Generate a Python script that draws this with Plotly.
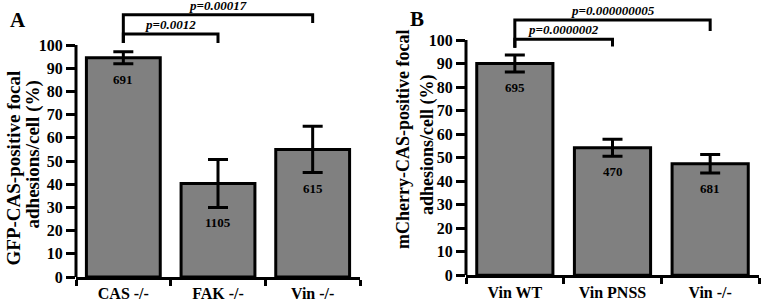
import plotly.graph_objects as go

# ---------------- data ----------------
cats_a = ["CAS -/-", "FAK -/-", "Vin -/-"]
mean_a = [94.5, 40.3, 55.0]
err_a = [2.6, 10.3, 10.0]
n_a = ["691", "1105", "615"]

cats_b = ["Vin WT", "Vin PNSS", "Vin -/-"]
mean_b = [90.0, 54.2, 47.4]
err_b = [3.6, 3.6, 3.9]
n_b = ["695", "470", "681"]

# brackets: (left index, right index, left base, top, right base, label)
brackets_a = [
    (0, 1, 100.9, 104.7, 100.9, "p=0.0012"),
    (0, 2, 100.9, 113.0, 109.5, "p=0.00017"),
]
brackets_b = [
    (0, 1, 96.7, 100.3, 97.2, "p=0.0000002"),
    (0, 2, 96.7, 108.5, 103.8, "p=0.000000005"),
]

ytick_vals = list(range(0, 101, 10))
ytitle_a = ["GFP-CAS-positive focal", "adhesions/cell (%)"]
ytitle_b = ["mCherry-CAS-positive focal", "adhesions/cell (%)"]
panel_labels = ["A", "B"]

FONT = "Liberation Serif"
W, H, B = 761, 304, 27
PH = H - B

fig = go.Figure()

def add_panel(cats, means, errs, ns, brackets, xa):
    xref = "x" if xa == 1 else f"x{xa}"
    yref = "y" if xa == 1 else f"y{xa}"
    fig.add_trace(go.Bar(
        x=cats, y=means, xaxis=xref, yaxis=yref,
        marker=dict(color="#808080", line=dict(color="black", width=3)),
        error_y=dict(type="data", array=errs, color="black", thickness=3, width=10),
        width=0.78,
    ))
    for c, m, e, n in zip(cats, means, errs, ns):
        fig.add_annotation(x=c, y=m - e, xref=xref, yref=yref, text=f"<b>{n}</b>",
                           showarrow=False, yanchor="top", yshift=-6,
                           font=dict(family=FONT, size=13, color="black"))
    for li, ri, lb, top, rb, lab in brackets:
        fig.add_trace(go.Scatter(
            x=[cats[li], cats[li], cats[ri], cats[ri]], y=[lb, top, top, rb],
            xaxis=xref, yaxis=yref,
            mode="lines", line=dict(color="black", width=3), hoverinfo="skip",
        ))
        fig.add_annotation(x=(li + ri) / 2, y=top, xref=xref, yref=yref,
                           text=f"<b><i>{lab}</i></b>", showarrow=False,
                           yanchor="bottom", yshift=0,
                           font=dict(family=FONT, size=13, color="black"))
    # y axis line only up to 100
    fig.add_shape(type="line", xref=f"{xref} domain", yref=yref, x0=0, x1=0,
                  y0=0, y1=100, line=dict(color="black", width=3))
    return xref

add_panel(cats_a, mean_a, err_a, n_a, brackets_a, 1)
add_panel(cats_b, mean_b, err_b, n_b, brackets_b, 2)

def xcommon(cats):
    return dict(type="category", range=[-0.5, 2.5], showline=True, linecolor="black",
                linewidth=3, ticks="outside", tickson="boundaries", ticklen=6,
                tickwidth=3, tickcolor="black", showgrid=False, zeroline=False,
                automargin=False, ticklabelstandoff=0,
                tickvals=cats, ticktext=[f"<b>{c}</b>" for c in cats],
                tickfont=dict(family=FONT, size=16, color="black"))

ycommon = dict(showline=False, ticks="outside", ticklen=9, tickwidth=3,
               tickcolor="black", tickvals=ytick_vals,
               ticktext=[f"<b>{v}</b>" for v in ytick_vals],
               showgrid=False, zeroline=False, automargin=False,
               tickfont=dict(family=FONT, size=16, color="black"))

fig.update_layout(
    width=W, height=H, margin=dict(l=0, r=0, t=0, b=B, autoexpand=False),
    paper_bgcolor="white", plot_bgcolor="white", showlegend=False,
    xaxis=dict(domain=[76 / W, 360 / W], anchor="y", **xcommon(cats_a)),
    xaxis2=dict(domain=[466 / W, 759 / W], anchor="y2", **xcommon(cats_b)),
    yaxis=dict(domain=[0, 1], range=[0, 119.4], anchor="x", **ycommon),
    yaxis2=dict(domain=[0.006, 1], range=[0, 117.0], anchor="x2", **ycommon),
)

# y-axis titles (two lines each, rotated)
title_specs = [
    (ytitle_a[0], 12.5, 168, 19), (ytitle_a[1], 32.5, 155, 19),
    (ytitle_b[0], 403, 140, 18), (ytitle_b[1], 427, 145, 18),
]
for txt, px, py, sz in title_specs:
    fig.add_annotation(x=px / W, y=1 - py / PH, xref="paper", yref="paper",
                       text=f"<b>{txt}</b>", textangle=-90, showarrow=False,
                       xanchor="center", yanchor="middle",
                       font=dict(family=FONT, size=sz, color="black"))

for lab, px, py in zip(panel_labels, [18, 417], [20, 19]):
    fig.add_annotation(x=px / W, y=1 - py / PH, xref="paper", yref="paper",
                       text=f"<b>{lab}</b>", showarrow=False,
                       xanchor="center", yanchor="middle",
                       font=dict(family=FONT, size=21, color="black"))

fig.write_html("out.html", config={"displayModeBar": False},
               post_script="document.body.style.margin='0';")
